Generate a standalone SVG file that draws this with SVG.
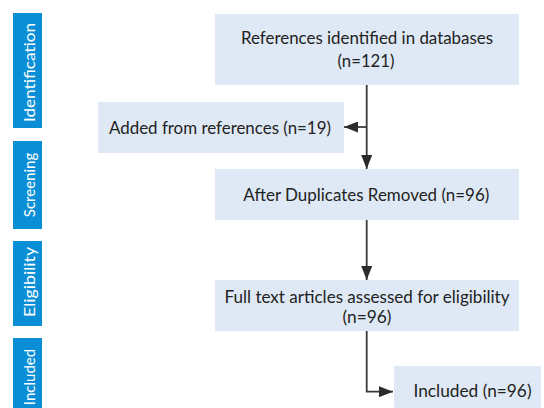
<svg xmlns="http://www.w3.org/2000/svg" width="544" height="408" viewBox="0 0 544 408">
<defs>
<marker id="arr" markerUnits="userSpaceOnUse" markerWidth="14" markerHeight="11" refX="14" refY="5.5" orient="auto">
<path d="M0,0 L14,5.5 L0,11 z" fill="#2b2b2b"/>
</marker>
<style>
.bar{fill:#0a8fd7}
.side{font-family:Lato,"Liberation Sans",sans-serif;font-size:15px;fill:#ffffff;text-anchor:middle}
.box{fill:#dfe9f5}
.t{font-family:Lato,"Liberation Sans",sans-serif;font-size:17px;fill:#222222;text-anchor:middle}
.c{fill:none;stroke:#3a3a3a;stroke-width:1.8}
</style>
</defs>
<rect width="544" height="408" fill="#ffffff"/>
<g id="stage-identification">
<rect class="bar" x="13" y="13" width="29" height="115"/>
<text class="side" transform="translate(35,72.5) rotate(-90)" textLength="99" lengthAdjust="spacingAndGlyphs">Identification</text>
</g>
<g id="stage-screening">
<rect class="bar" x="13" y="141" width="29" height="88"/>
<text class="side" transform="translate(35,185) rotate(-90)">Screening</text>
</g>
<g id="stage-eligibility">
<rect class="bar" x="13" y="241" width="29" height="85"/>
<text class="side" transform="translate(35,282) rotate(-90)" textLength="70" lengthAdjust="spacingAndGlyphs">Eligibility</text>
</g>
<g id="stage-included">
<rect class="bar" x="13" y="338" width="29" height="80"/>
<text class="side" transform="translate(35,377) rotate(-90)">Included</text>
</g>
<g id="connectors">
<line class="c" x1="366.7" y1="85" x2="366.7" y2="169" marker-end="url(#arr)"/>
<line class="c" x1="366.7" y1="127" x2="344" y2="127" marker-end="url(#arr)"/>
<line class="c" x1="366.7" y1="220" x2="366.7" y2="280" marker-end="url(#arr)"/>
<polyline class="c" points="366.7,331 366.7,391.7 393,391.7" marker-end="url(#arr)"/>
</g>
<g id="node-identified">
<rect class="box" x="215" y="14" width="304" height="71"/>
<text class="t" x="367" y="44" textLength="252" lengthAdjust="spacingAndGlyphs">References identified in databases</text>
<text class="t" x="366" y="66.5" textLength="57" lengthAdjust="spacingAndGlyphs">(n=121)</text>
</g>
<g id="node-added">
<rect class="box" x="98" y="102" width="246" height="51"/>
<text class="t" x="220" y="133.5" textLength="222" lengthAdjust="spacingAndGlyphs">Added from references (n=19)</text>
</g>
<g id="node-dedup">
<rect class="box" x="215" y="169" width="304" height="51"/>
<text class="t" x="366.3" y="201" textLength="246" lengthAdjust="spacingAndGlyphs">After Duplicates Removed (n=96)</text>
</g>
<g id="node-fulltext">
<rect class="box" x="215" y="280" width="304" height="51"/>
<text class="t" x="367" y="303" textLength="285" lengthAdjust="spacingAndGlyphs">Full text articles assessed for eligibility</text>
<text class="t" x="367" y="323" textLength="49" lengthAdjust="spacingAndGlyphs">(n=96)</text>
</g>
<g id="node-included">
<rect class="box" x="394" y="366" width="147" height="50"/>
<text class="t" x="472.5" y="396.7" textLength="118" lengthAdjust="spacingAndGlyphs">Included (n=96)</text>
</g>
</svg>
